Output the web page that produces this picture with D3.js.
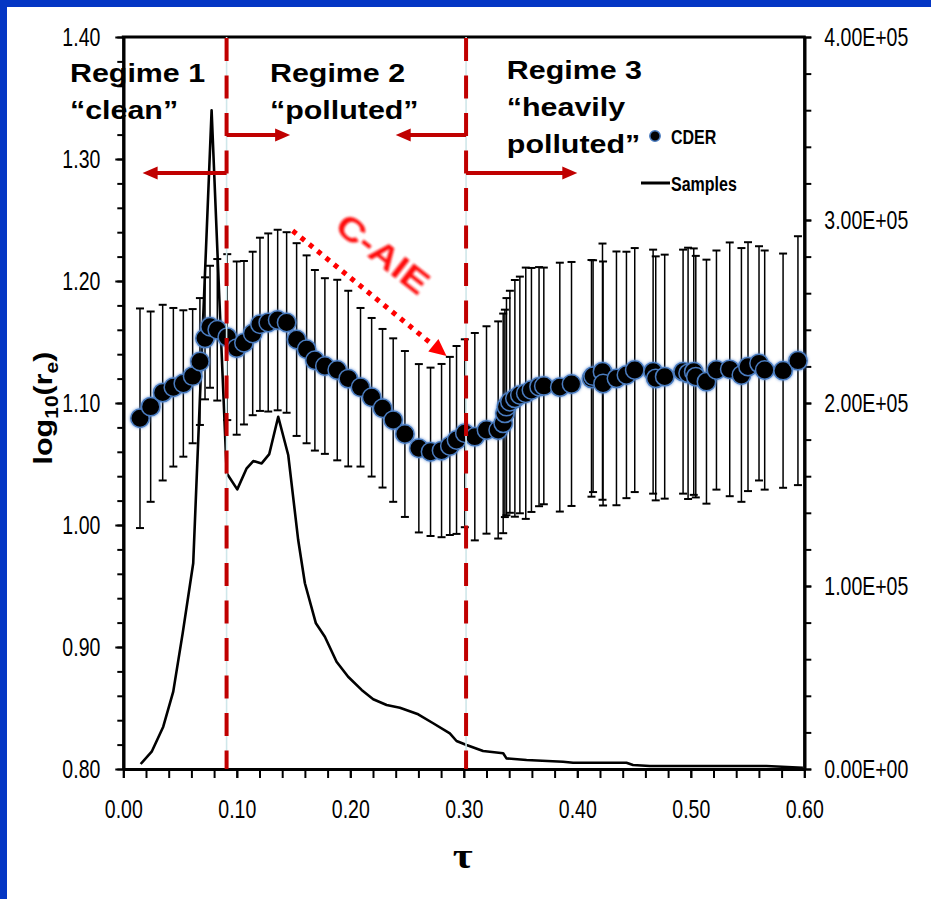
<!DOCTYPE html>
<html>
<head>
<meta charset="utf-8">
<script src="https://cdn.jsdelivr.net/npm/d3@7"></script>
<style>
  body { margin: 0; background: #fff; }
  svg { display: block; }
</style>
</head>
<body>
<svg id="chart" width="931" height="899"></svg>
<script>
// ---- data ----
// CDER points: tau, log10(re) mean and the half height of the error bar
const tau = [0.0147, 0.0241, 0.0347, 0.0441, 0.0529, 0.0611, 0.0675, 0.0720, 0.0764, 0.0828,
  0.0916, 0.0999, 0.1063, 0.1140, 0.1204, 0.1277, 0.1360, 0.1439, 0.1527, 0.1615,
  0.1688, 0.1776, 0.1885, 0.1982, 0.2090, 0.2188, 0.2284, 0.2378, 0.2481, 0.2604,
  0.2707, 0.2804, 0.2877, 0.2936, 0.3009, 0.3097, 0.3200, 0.3303, 0.3347, 0.3362,
  0.3376, 0.3406, 0.3450, 0.3494, 0.3546, 0.3596, 0.3663, 0.3705, 0.3846, 0.3949,
  0.4125, 0.4139, 0.4222, 0.4227, 0.4345, 0.4433, 0.4506, 0.4668, 0.4691, 0.4770,
  0.4932, 0.4976, 0.5026, 0.5044, 0.5138, 0.5226, 0.5343, 0.5446, 0.5504, 0.5601,
  0.5651, 0.5813, 0.5944];
const cder = [1.0875, 1.097, 1.1085, 1.1129, 1.116, 1.122, 1.134, 1.153, 1.1625, 1.160,
  1.154, 1.145, 1.1494, 1.157, 1.1645, 1.166, 1.168, 1.166, 1.152, 1.144,
  1.135, 1.1303, 1.127, 1.120, 1.1129, 1.1047, 1.0957, 1.086, 1.0746, 1.0629,
  1.060, 1.061, 1.0648, 1.0697, 1.0752, 1.0724, 1.0779, 1.0779, 1.0833, 1.0915,
  1.097, 1.101, 1.1038, 1.1066, 1.108, 1.1107, 1.1134, 1.114, 1.113, 1.1156,
  1.1202, 1.122, 1.1257, 1.116, 1.1202, 1.123, 1.127, 1.1257, 1.1202, 1.1216,
  1.1257, 1.1243, 1.1257, 1.1216, 1.1175, 1.127, 1.1276, 1.123, 1.1298, 1.1325,
  1.127, 1.1265, 1.1347];
const cderErr = [0.090, 0.078, 0.072, 0.065, 0.060, 0.055, 0.052, 0.050, 0.050, 0.058,
  0.068, 0.071, 0.067, 0.067, 0.071, 0.073, 0.074, 0.074, 0.079, 0.077,
  0.074, 0.072, 0.074, 0.072, 0.065, 0.065, 0.065, 0.067, 0.068, 0.069,
  0.069, 0.071, 0.073, 0.077, 0.077, 0.085, 0.085, 0.089, 0.090, 0.085,
  0.089, 0.091, 0.097, 0.097, 0.103, 0.100, 0.098, 0.097, 0.102, 0.100,
  0.097, 0.095, 0.105, 0.100, 0.104, 0.101, 0.100, 0.100, 0.100, 0.100,
  0.100, 0.103, 0.101, 0.099, 0.100, 0.098, 0.104, 0.104, 0.102, 0.096,
  0.098, 0.096, 0.102];

// number of samples (right axis)
const sampleTau = [0.0153, 0.0250, 0.0352, 0.0440, 0.0523, 0.0616, 0.0697, 0.0778, 0.0847, 0.0911,
  0.1004, 0.1087, 0.1145, 0.1219, 0.1286, 0.1365, 0.1453, 0.1541, 0.1600, 0.1697,
  0.1776, 0.1879, 0.1981, 0.2100, 0.2202, 0.2320, 0.2437, 0.2598, 0.2730, 0.2877,
  0.2936, 0.3024, 0.3170, 0.3347, 0.3376, 0.3553, 0.3875, 0.3963, 0.4433, 0.4491,
  0.4638, 0.5666, 0.5988];
const samples = [2730, 9450, 23100, 42300, 74100, 112400, 236000, 360000, 256000, 161600,
  152800, 164300, 168300, 167000, 172100, 192500, 171600, 125100, 101500, 79600,
  72300, 58600, 50400, 43200, 38100, 35000, 33500, 29900, 25000, 19500,
  15300, 13100, 9800, 8600, 5800, 4900, 4000, 3400, 3400, 2200,
  1600, 1600, 700];

const xMajor = [0, 0.1, 0.2, 0.3, 0.4, 0.5, 0.6];
const yMajor = [0.8, 0.9, 1.0, 1.1, 1.2, 1.3, 1.4];
const yRMajor = [0, 1e5, 2e5, 3e5, 4e5];

// regime boundaries, arrows and labels (data coordinates)
const regimeBounds = [0.091, 0.302];
const arrows = [
  {y: 1.2885, from: 0.091, to: 0.017},
  {y: 1.3197, from: 0.091, to: 0.147},
  {y: 1.3197, from: 0.302, to: 0.240},
  {y: 1.2885, from: 0.302, to: 0.400}
];
const regimeLabels = [
  {tau: -0.047, top: 1.3631, lines: ["Regime 1", "\u201cclean\u201d"]},
  {tau: 0.1292, top: 1.3631, lines: ["Regime 2", "\u201cpolluted\u201d"]},
  {tau: 0.3379, top: 1.3656, lines: ["Regime 3", "\u201cheavily", "polluted\u201d"]}
];
const caieArrow = {from: [0.1492, 1.2412], to: [0.2848, 1.1385]};
const caieLabel = {tau: 0.2290, val: 1.2225, text: "C-AIE"};

// ---- setup ----
const W = 931, H = 899;
const svg = d3.select("#chart");
const SANS = '"Liberation Sans", Arial, Helvetica, sans-serif';

const x = d3.scaleLinear().domain([0, 0.6]).range([123.3, 804.3]);
const y = d3.scaleLinear().domain([0.8, 1.4]).range([769, 37]);
const yR = d3.scaleLinear().domain([0, 4e5]).range([769, 37]);

// blue frame
svg.append("rect").attr("width", W).attr("height", H).attr("fill", "#0436c4");
svg.append("rect").attr("x", 7).attr("y", 7).attr("width", W - 7).attr("height", H - 7).attr("fill", "#fff");

const defs = svg.append("defs");
const glow = defs.append("filter").attr("id", "glow")
  .attr("x", "-50%").attr("y", "-50%").attr("width", "200%").attr("height", "200%");
glow.append("feGaussianBlur").attr("in", "SourceAlpha").attr("stdDeviation", 1.8).attr("result", "b");
glow.append("feFlood").attr("flood-color", "#5b8bd2").attr("flood-opacity", 0.95);
glow.append("feComposite").attr("in2", "b").attr("operator", "in").attr("result", "g");
const gm = glow.append("feMerge");
gm.append("feMergeNode").attr("in", "g");
gm.append("feMergeNode").attr("in", "SourceGraphic");

const soft = defs.append("filter").attr("id", "soft");
soft.append("feGaussianBlur").attr("stdDeviation", 0.8);

// text helper: squeeze / stretch horizontally
function label(parent, px, py, str, o) {
  const g = parent.append("g")
    .attr("transform", `translate(${px},${py})` + (o.rotate ? ` rotate(${o.rotate})` : ""));
  return g.append("text")
    .attr("transform", `scale(${o.sx || 1},1)`)
    .attr("font-family", o.family || SANS)
    .attr("font-size", o.size)
    .attr("font-weight", o.weight || "normal")
    .attr("fill", o.fill || "#000")
    .attr("text-anchor", o.anchor || "start")
    .text(str);
}

// ---- axes ----
const TICK_SX = 0.78;
function styleAxis(g, sx) {
  g.attr("font-family", null).attr("font-size", null);
  g.select(".domain").attr("stroke", "#000").attr("stroke-width", 3);
  g.selectAll(".tick line").attr("stroke", "#000").attr("stroke-width", 2);
  g.selectAll(".tick text")
    .attr("font-family", SANS).attr("font-size", 25).attr("fill", "#000")
    .attr("transform", `scale(${sx},1)`)
    .attr("x", function () { return (+this.getAttribute("x") || 0) / sx; });
}

const xMinor = d3.range(0, 0.601, 0.02);
const yMinor = d3.range(0.8, 1.401, 0.02);
const yRMinor = d3.range(0, 400001, 20000);

svg.append("g").attr("transform", `translate(0,${y(0.8)})`)
  .call(d3.axisBottom(x).tickValues(xMinor).tickSize(9).tickSizeOuter(0).tickFormat(""))
  .call(g => styleAxis(g, 1));
svg.append("g").attr("transform", `translate(0,${y(0.8)})`)
  .call(d3.axisBottom(x).tickValues(xMajor).tickSize(9).tickSizeOuter(0).tickPadding(22).tickFormat(d3.format(".2f")))
  .call(g => styleAxis(g, TICK_SX));

svg.append("g").attr("transform", `translate(${x(0)},0)`)
  .call(d3.axisLeft(y).tickValues(yMinor).tickSize(6).tickSizeOuter(0).tickFormat(""))
  .call(g => styleAxis(g, 1));
svg.append("g").attr("transform", `translate(${x(0)},0)`)
  .call(d3.axisLeft(y).tickValues(yMajor).tickSize(8).tickSizeOuter(0).tickPadding(15).tickFormat(d3.format(".2f")))
  .call(g => styleAxis(g, TICK_SX));

const sciFmt = v => {
  const e = v === 0 ? 0 : Math.floor(Math.log10(v));
  return (v / Math.pow(10, e)).toFixed(2) + "E+" + String(e).padStart(2, "0");
};
svg.append("g").attr("transform", `translate(${x(0.6)},0)`)
  .call(d3.axisRight(yR).tickValues(yRMinor).tickSize(7).tickSizeOuter(0).tickFormat(""))
  .call(g => styleAxis(g, 1));
svg.append("g").attr("transform", `translate(${x(0.6)},0)`)
  .call(d3.axisRight(yR).tickValues(yRMajor).tickSize(7).tickSizeOuter(0).tickPadding(13).tickFormat(sciFmt))
  .call(g => styleAxis(g, TICK_SX));

// top frame line
svg.append("line")
  .attr("x1", x(0) - 1.5).attr("x2", x(0.6) + 1.5).attr("y1", y(1.4)).attr("y2", y(1.4))
  .attr("stroke", "#000").attr("stroke-width", 3);

// ---- CDER error bars ----
const pts = tau.map((t, i) => ({t: t, v: cder[i], e: cderErr[i]}));
const eb = svg.append("g").attr("stroke", "#000");
eb.selectAll("line.bar").data(pts).enter().append("line").attr("class", "bar")
  .attr("x1", d => x(d.t)).attr("x2", d => x(d.t))
  .attr("y1", d => y(d.v + d.e)).attr("y2", d => y(d.v - d.e))
  .attr("stroke-width", 1.5);
[1, -1].forEach(s => {
  eb.selectAll(null).data(pts).enter().append("line")
    .attr("x1", d => x(d.t) - 4).attr("x2", d => x(d.t) + 4)
    .attr("y1", d => y(d.v + s * d.e)).attr("y2", d => y(d.v + s * d.e))
    .attr("stroke-width", 2);
});

// ---- samples line ----
const sampleLine = d3.line().x(d => x(d[0])).y(d => yR(d[1]));
svg.append("path")
  .datum(sampleTau.map((t, i) => [t, samples[i]]))
  .attr("d", sampleLine)
  .attr("fill", "none").attr("stroke", "#000").attr("stroke-width", 2.6)
  .attr("stroke-linejoin", "round");

// ---- CDER markers ----
svg.append("g").attr("filter", "url(#glow)")
  .selectAll("circle").data(pts).enter().append("circle")
  .attr("cx", d => x(d.t)).attr("cy", d => y(d.v)).attr("r", 9.2)
  .attr("fill", "#030303").attr("stroke", "#4a7cc0").attr("stroke-width", 1.5);

// ---- regime boundaries ----
regimeBounds.forEach(b => {
  svg.append("line").attr("x1", x(b)).attr("x2", x(b)).attr("y1", y(1.4)).attr("y2", y(0.8))
    .attr("stroke", "#cfe7ea").attr("stroke-width", 1.6);
  svg.append("line").attr("x1", x(b)).attr("x2", x(b)).attr("y1", y(1.4) + 1).attr("y2", y(0.8))
    .attr("stroke", "#c00000").attr("stroke-width", 4).attr("stroke-dasharray", "23,14.5");
});

// arrows
const RED = "#c00000";
arrows.forEach(a => {
  const x0 = x(a.from), x1 = x(a.to), yy = y(a.y);
  const dir = Math.sign(x1 - x0), L = 15, hw = 6.5;
  svg.append("line").attr("x1", x0).attr("x2", x1 - dir * (L - 1)).attr("y1", yy).attr("y2", yy)
    .attr("stroke", RED).attr("stroke-width", 4);
  svg.append("path")
    .attr("d", `M${x1},${yy}L${x1 - dir * L},${yy - hw}L${x1 - dir * L},${yy + hw}Z`)
    .attr("fill", RED);
});

// C-AIE dotted arrow
{
  const sx0 = x(caieArrow.from[0]), sy0 = y(caieArrow.from[1]);
  const tx = x(caieArrow.to[0]), ty = y(caieArrow.to[1]);
  const len = Math.hypot(tx - sx0, ty - sy0), ux = (tx - sx0) / len, uy = (ty - sy0) / len;
  const L = 17, hw = 8;
  const bx = tx - ux * L, by = ty - uy * L;
  svg.append("line").attr("x1", sx0).attr("y1", sy0).attr("x2", bx).attr("y2", by)
    .attr("stroke", "#ff0000").attr("stroke-width", 5).attr("stroke-dasharray", "4.7,6");
  svg.append("path")
    .attr("d", `M${tx},${ty}L${bx - uy * hw},${by + ux * hw}L${bx + uy * hw},${by - ux * hw}Z`)
    .attr("fill", "#ff0000");
}
label(svg, x(caieLabel.tau), y(caieLabel.val), caieLabel.text,
  {rotate: 38, sx: 1.17, size: 34, weight: "bold", fill: "#ff1010", anchor: "middle"})
  .attr("dy", "0.36em").attr("filter", "url(#soft)");

// regime labels
regimeLabels.forEach(r => {
  r.lines.forEach((ln, i) => {
    label(svg, x(r.tau), y(r.top) + i * 37, ln, {sx: 1.17, size: 26, weight: "bold"});
  });
});

// legend
svg.append("circle").attr("cx", 655).attr("cy", 136).attr("r", 5.2)
  .attr("fill", "#030303").attr("stroke", "#4a7cc0").attr("stroke-width", 1.5);
label(svg, 671, 143.5, "CDER", {sx: 0.8, size: 20, weight: "bold"});
svg.append("line").attr("x1", 641).attr("x2", 670).attr("y1", 183).attr("y2", 183)
  .attr("stroke", "#000").attr("stroke-width", 3);
label(svg, 671, 191, "Samples", {sx: 0.8, size: 20, weight: "bold"});

// axis titles
const yt = label(svg, 52, 408, "log", {rotate: -90, sx: 1.17, size: 26, weight: "bold", anchor: "middle"});
yt.append("tspan").attr("dy", 6).attr("font-size", 18).text("10");
yt.append("tspan").attr("dy", -6).text("(r");
yt.append("tspan").attr("dy", 6).attr("font-size", 18).text("e");
yt.append("tspan").attr("dy", -6).text(")");

label(svg, x(0.299), 868, "\u03c4",
  {sx: 1.2, size: 36, weight: "bold", anchor: "middle", family: '"Liberation Serif", "Times New Roman", serif'});
</script>
</body>
</html>
